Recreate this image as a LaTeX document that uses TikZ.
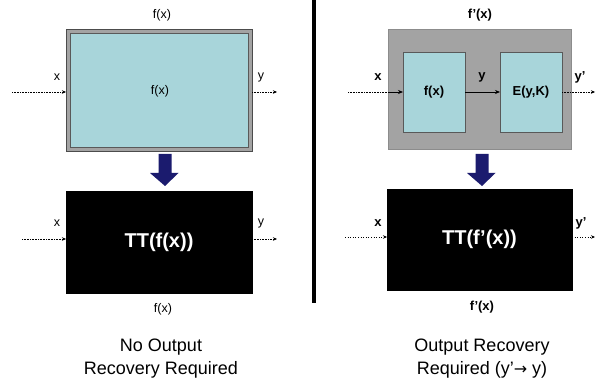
\documentclass[tikz,border=0pt]{standalone}
\usepackage{fontspec}
\setmainfont{Liberation Sans}
\newfontfamily\arrowfont{DejaVu Sans}
\usetikzlibrary{arrows.meta}
\definecolor{boxcyan}{HTML}{A8D5DA}
\definecolor{framegray}{HTML}{A3A3A3}
\definecolor{navy}{HTML}{1B1B6E}
\tikzset{
  every node/.style={inner sep=0pt, outer sep=0pt},
  lbl/.style={font=\fontsize{12.5}{14}\selectfont},
  blbl/.style={font=\fontsize{13}{15}\selectfont\bfseries},
  outer/.style={draw=black!70, line width=0.6pt, fill=framegray},
  cyanbox/.style={draw=black!65, line width=0.7pt, fill=boxcyan},
  blackbox/.style={draw=black, fill=black, text=white, font=\fontsize{20}{22}\selectfont\bfseries},
  dotline/.style={densely dotted, line width=0.6pt, -{Stealth[length=4pt,width=3.5pt]}},
  dotplain/.style={densely dotted, line width=0.6pt},
  solidarr/.style={line width=0.7pt, -{Stealth[length=5pt,width=4pt]}},
  caption/.style={font=\fontsize{18}{23}\selectfont, align=center},
  downarrow/.style={fill=navy}
}
\begin{document}
\begin{tikzpicture}[x=1pt,y=-1pt]
\useasboundingbox (0,0) rectangle (602,387);
\fill[white] (0,0) rectangle (602,387);

% ---------- left top ----------
\node[outer, minimum width=186pt, minimum height=122pt] (outerL) at (159,90) {};
\node[cyanbox, minimum width=178pt, minimum height=114pt] (innerL) at (159,90) {};
\node[lbl] (fxL) at (160,91) {f(x)};
\node[lbl] (topL) at (162,15) {f(x)};
\node[lbl] (xL) at (57,77) {x};
\node[lbl] (yL) at (261,77) {y};
\coordinate (inL) at (12,92);
\coordinate (outL) at (277,92);
\draw[dotline] (inL) -- (inL -| outerL.west);
\draw[dotline] (outL -| outerL.east) -- (outL);

% down arrow left
\coordinate (dL) at (165,154);
\fill[downarrow] (dL) ++(-6.5,0) -- ++(13,0) -- ++(0,19) -- ++(7,0) -- (165,186) -- (150,173) -- ++(8.5,0) -- cycle;

% ---------- left bottom ----------
\node[blackbox, minimum width=186pt, minimum height=102pt] (ttL) at (159,242) {TT(f(x))};
\node[lbl] (xL2) at (57,223) {x};
\node[lbl] (yL2) at (261,223) {y};
\node[lbl] (botL) at (163,309) {f(x)};
\coordinate (inL2) at (22,239);
\coordinate (outL2) at (277,239);
\draw[dotline] (inL2) -- (inL2 -| ttL.west);
\draw[dotline] (outL2 -| ttL.east) -- (outL2);
\node[caption] (capL) at (161,359) {No Output\\Recovery Required};

% ---------- divider ----------
\coordinate (divT) at (314,0);
\coordinate (divB) at (314,303);
\draw[line width=4pt] (divT) -- (divB);

% ---------- right top ----------
\node[outer, draw=black!45, minimum width=183pt, minimum height=120pt] (outerR) at (479.5,89) {};
\node[cyanbox, minimum width=62pt, minimum height=80pt, blbl] (fR) at (434,92) {f(x)};
\node[cyanbox, minimum width=62pt, minimum height=80pt, blbl] (eR) at (531,92) {E(y,K)};
\node[blbl] (topR) at (480,15) {f’(x)};
\node[blbl] (xR) at (378,77) {x};
\node[blbl] (yR) at (482,77) {y};
\node[blbl] (ypR) at (580,77) {y’};
\coordinate (inR) at (348,92);
\coordinate (outR) at (595,92);
\draw[dotplain] (inR) -- (inR -| outerR.west);
\draw[solidarr] (inR -| outerR.west) -- (inR -| fR.west);
\draw[solidarr] (fR.east) -- (eR.west);
\draw[dotline] (outR -| eR.east) -- (outR);

% down arrow right
\coordinate (dR) at (482,154);
\fill[downarrow] (dR) ++(-6.5,0) -- ++(13,0) -- ++(0,19) -- ++(7,0) -- (482,186) -- (467,173) -- ++(8.5,0) -- cycle;

% ---------- right bottom ----------
\node[blackbox, minimum width=185pt, minimum height=101pt] (ttR) at (479.5,239.5) {TT(f’(x))};
\node[blbl] (xR2) at (378,223) {x};
\node[blbl] (ypR2) at (581,223) {y’};
\node[blbl] (botR) at (482,307) {f’(x)};
\coordinate (inR2) at (345,237);
\coordinate (outR2) at (595,237);
\draw[dotline, dotted, line width=0.8pt] (inR2) -- (inR2 -| ttR.west);
\draw[dotline, dotted, line width=0.8pt] (outR2 -| ttR.east) -- (outR2);
\node[caption] (capR) at (482,359) {Output Recovery\\Required (y’{\arrowfont\fontsize{16}{23}\selectfont →} y)};
\end{tikzpicture}
\end{document}
